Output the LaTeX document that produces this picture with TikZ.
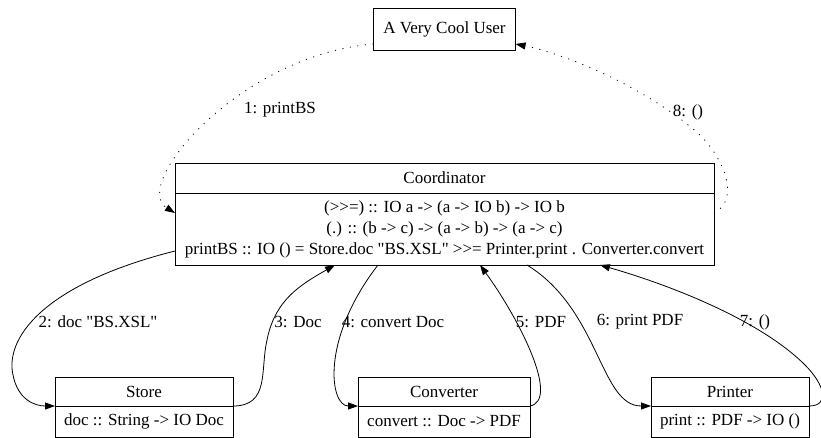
\documentclass[tikz,border=0pt]{standalone}
\usepackage{fontspec}
\setmainfont{Liberation Serif}[Ligatures=TeXOff]
\usetikzlibrary{positioning,calc,arrows.meta}

\begin{document}
\begin{tikzpicture}[x=1pt, y=-1pt, line width=0.8pt,
    font=\fontsize{17}{21}\selectfont,
    box/.style={draw, rectangle, inner sep=0pt, outer sep=0pt},
    call/.style={-{Triangle[length=10pt,width=7pt]}},
    reply/.style={call, dash pattern=on 1.1pt off 6.5pt}]
    \useasboundingbox (0,0) rectangle (821,438);

    % --- User ---
    \node[box, minimum width=142pt, minimum height=42pt] (user) at (444.5,29) {A Very Cool User};

    % --- Coordinator (titolo + corpo) ---
    \node[box, minimum width=539pt, minimum height=30pt] (coordT) at (444.5,178) {Coordinator};
    \node[box, below=0pt of coordT, minimum width=539pt, minimum height=72pt, align=center] (coordB)
        {(>>=) :: IO a -> (a -> IO b) -> IO b\\
         (.) :: (b -> c) -> (a -> b) -> (a -> c)\\
         printBS :: IO () = Store.doc "BS.XSL" >>= Printer.print . Converter.convert};

    % --- servizi in basso ---
    \node[box, minimum width=178pt, minimum height=29pt] (storeT) at (144,391.5) {Store};
    \node[box, below=0pt of storeT, minimum width=178pt, minimum height=31pt] (storeB) {doc :: String -> IO Doc};

    \node[box, minimum width=172pt, minimum height=29pt] (convT) at (444,391.5) {Converter};
    \node[box, below=0pt of convT, minimum width=172pt, minimum height=31pt] (convB) {convert :: Doc -> PDF};

    \node[box, minimum width=158pt, minimum height=29pt] (printT) at (730,391.5) {Printer};
    \node[box, below=0pt of printT, minimum width=158pt, minimum height=31pt] (printB) {print :: PDF -> IO ()};

    % chiamata iniziale e risposta finale (tratteggiate)
    \draw[reply] ($(user.south west)+(0,-6)$) .. controls (240,55) and (130,185) .. ($(coordB.north west)+(0,20)$)
        node at (280,110) {1: printBS};
    \draw[reply] ($(coordB.north east)+(0,20)$) .. controls (740,200) and (725,160) .. (700,135)
        .. controls (650,90) and (570,55) .. ($(user.south east)+(0,-6)$)
        node at (688,112) {8: ()};

    % messaggi verso i servizi
    \draw[call] ($(coordB.south west)+(0,-14)$) .. controls (40,285) and (5,340) .. (13,375)
        .. controls (18,400) and (35,406) .. (storeT.south west)
        node at (98,322) {2: doc "BS.XSL"};
    \draw[call] (storeT.south east) .. controls (270,406) and (260,370) .. (267,340)
        .. controls (275,300) and (300,285) .. ($(coordB.south west)+(160,0)$)
        node at (298,322) {3: Doc};
    \draw[call] ($(coordB.south west)+(203,0)$) .. controls (320,340) and (330,406) .. (convT.south west)
        node at (393,322) {4: convert Doc};
    \draw[call] (convT.south east) .. controls (560,400) and (520,320) .. ($(coordB.south west)+(305,0)$)
        node at (541,322) {5: PDF};
    \draw[call] ($(coordB.south west)+(352,0)$) .. controls (600,310) and (600,406) .. (printT.south west)
        node at (640,322) {6: print PDF};
    \draw[call] (printT.south east) .. controls (830,406) and (825,385) .. (805,365)
        .. controls (760,320) and (670,285) .. ($(coordB.south west)+(425,0)$)
        node at (755,322) {7: ()};
\end{tikzpicture}
\end{document}
